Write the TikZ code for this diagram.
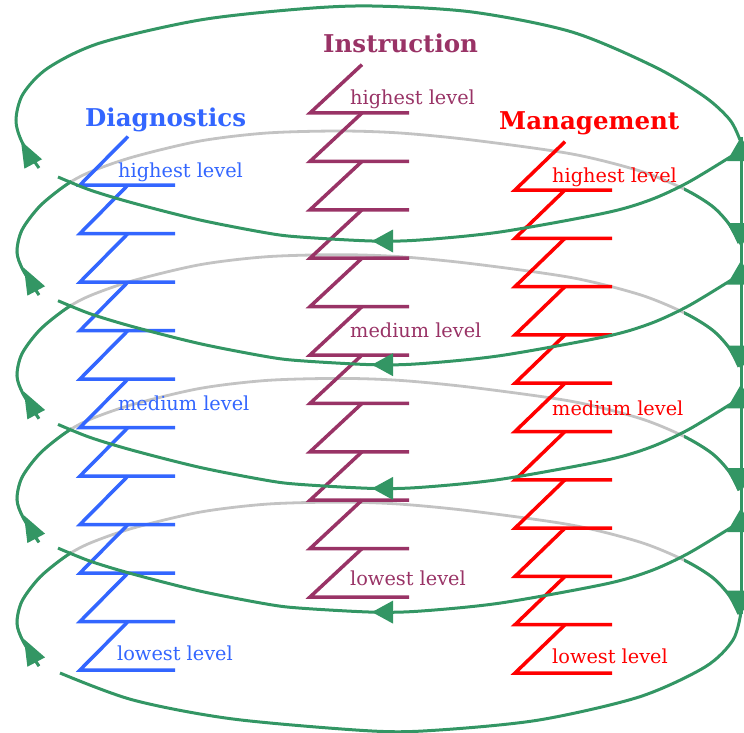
\documentclass[tikz,border=0pt]{standalone}
\usepackage{fontspec}
\setmainfont{DejaVu Serif}
\definecolor{gr}{RGB}{51,150,100}
\definecolor{bl}{RGB}{51,102,255}
\definecolor{pu}{RGB}{153,51,102}
\definecolor{rd}{RGB}{255,0,0}
\definecolor{gy}{RGB}{195,195,195}
\tikzset{
  greenline/.style={draw=gr, line width=3pt},
  grayline/.style={draw=gy, line width=2.8pt},
  stair/.style={line width=3.5pt, line join=miter, line cap=butt},
  lbl/.style={anchor=base west, inner sep=0pt, font=\fontsize{19.3}{23}\selectfont},
  ttl/.style={anchor=base west, inner sep=0pt, font=\fontsize{24.5}{29}\selectfont\bfseries},
}
\newcommand\drawupper[1]{\draw[#1] plot[smooth] coordinates {(39,295) (23,270) (17,252) (22,230) (40,206) (66,185) (90,172) (133,157) (200,141) (267,133) (340,131) (400,133) (472,140) (572,154) (640,171) (684,189) (712,206) (729,224) (739,243)};}
\newcommand\drawfront{\draw[greenline] plot[smooth] coordinates {(741,150) (727,159) (687,183) (650,200) (605,213) (500,232) (420,240) (372,241) (300,237) (267,233) (200,220) (133,203) (90,190) (58,177)};}
\newcommand\tri[5]{\fill[gr, shift={(#1,#2)}, rotate=#3] (0,0) -- (-#4,-#5) -- (-#4,#5) -- cycle;}
\begin{document}
\begin{tikzpicture}[x=1pt,y=-1pt]
\useasboundingbox (0,0) rectangle (744,733);
% hidden (back) parts of the lower loops
\foreach \k in {1,2,3,4}{
  \begin{scope}[shift={(0,{123.7*(\k-1)})}]
    \drawupper{grayline}
  \end{scope}
}
% staircases
\foreach \i in {0,...,10}{
  \draw[stair, bl] (128,{185+48.5*(\i-1)}) -- (80,{185+48.5*\i}) -- (175,{185+48.5*\i});
  \draw[stair, pu] (362,{113+48.4*(\i-1)}) -- (310,{113+48.4*\i}) -- (409,{113+48.4*\i});
  \draw[stair, rd] (565,{190+48.3*(\i-1)}) -- (515,{190+48.3*\i}) -- (612,{190+48.3*\i});
}
% titles and labels
\node[ttl, text=bl] (tdiag) at (85,127) {Diagnostics};
\node[ttl, text=pu] (tinst) at (323,53) {Instruction};
\node[ttl, text=rd] (tman) at (499,130) {Management};
\node[lbl, text=bl] (bh) at (118,177) {highest level};
\node[lbl, text=bl] (bm) at (118,410) {medium level};
\node[lbl, text=bl] (bl) at (117,660) {lowest level};
\node[lbl, text=pu] (ph) at (350,105) {highest level};
\node[lbl, text=pu] (pm) at (350,337) {medium level};
\node[lbl, text=pu] (pl) at (350,585) {lowest level};
\node[lbl, text=rd] (rh) at (552,182) {highest level};
\node[lbl, text=rd] (rm) at (552,415) {medium level};
\node[lbl, text=rd] (rl) at (552,663) {lowest level};
% top loop, back part
\draw[greenline] plot[smooth] coordinates {(39,168) (22,142) (16,120) (23,94) (48,68) (100,43) (200,20) (300,9) (372,6) (472,12) (572,32) (655,67) (705,97) (730,120) (740,140)};
\tri{21}{141}{118}{26}{10}
% visible ends of the lower back parts
\foreach \k in {1,2,3,4}{
  \begin{scope}[shift={(0,{123.7*(\k-1)})}]
    \begin{scope}
      \clip (0,100) rectangle (71,330);
      \drawupper{greenline}
    \end{scope}
    \begin{scope}
      \clip (684,100) rectangle (760,330);
      \drawupper{greenline}
    \end{scope}
    \tri{24}{268}{118}{26}{10}
  \end{scope}
}
% front parts
\foreach \k in {0,1,2,3}{
  \begin{scope}[shift={(0,{123.7*\k})}]
    \drawfront
    \tri{372}{241}{180}{21}{11.5}
  \end{scope}
}
\draw[greenline] plot[smooth] coordinates {(741,612) (733,640) (705,667) (639,697) (539,720) (439,730) (372,731) (233,719) (133,700) (60,673)};
% right vertical line with arrows
\coordinate (vtop) at (741,137);
\coordinate (vbot) at (741,614);
\draw[greenline] (vtop) -- (vbot);
\foreach \j in {0,1,2,3}{
  \tri{741}{137+123.7*\j}{90}{24}{14}
  \tri{741}{247+122.5*\j}{-90}{24}{14}
}
\end{tikzpicture}
\end{document}
